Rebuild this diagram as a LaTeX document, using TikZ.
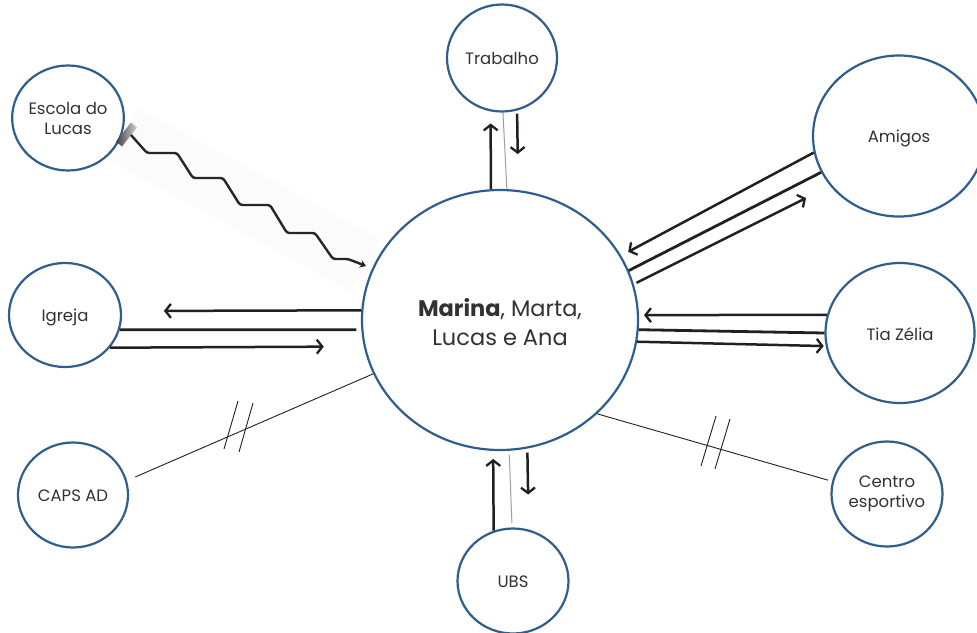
\documentclass[tikz,border=0pt]{standalone}
\usepackage{fontspec}
\setmainfont{Poppins}
\usetikzlibrary{arrows.meta,shapes.geometric,calc}
\definecolor{cblue}{RGB}{47,94,140}
\definecolor{ink}{RGB}{35,31,32}
\definecolor{txt}{RGB}{50,50,50}
\newcommand{\lowtxt}[2]{\raisebox{-#1}[\height][\depth]{\begin{tabular}{@{}c@{}}#2\end{tabular}}}
\begin{document}
\begin{tikzpicture}[x=1pt,y=-1pt,
  circ/.style={ellipse, draw=cblue, line width=2.2pt, fill=white, inner sep=0pt,
    text=txt, font=\fontsize{16.5}{20}\selectfont, align=center},
  arr/.style={draw=ink, line width=2.5pt, -{Straight Barb[length=5.5pt,width=14pt,line width=2.3pt]}},
  bar/.style={draw=ink, line width=2.8pt},
  thinline/.style={draw=ink, line width=0.9pt},
  grayline/.style={draw=gray!75, line width=1pt},
  zig/.style={draw=black!85, line width=2.4pt, rounded corners=2.5pt}
]
\useasboundingbox (0,0) rectangle (977,632);
\clip (0,0) rectangle (977,632);
\fill[white] (0,0) rectangle (977,632);

% faint band behind the zigzag
\fill[gray!3] (110,161) -- (139,109) -- (380,239) -- (351,291) -- cycle;

% nodes
\node[circ, minimum width=276pt, minimum height=260pt, font=\fontsize{22.5}{29}\selectfont] (c) at (500,320)
  {\lowtxt{5pt}{{\bfseries Marina}, Marta,\\Lucas e Ana}};
\node[circ, minimum width=110pt, minimum height=107pt] (trab) at (502,58) {\lowtxt{2pt}{Trabalho}};
\node[circ, minimum width=110pt, minimum height=105pt] (esc) at (68,118) {Escola do\\Lucas};
\node[circ, minimum width=172pt, minimum height=161pt] (ami) at (899,136) {\lowtxt{2pt}{Amigos}};
\node[circ, minimum width=112pt, minimum height=104pt] (igr) at (65,315) {\lowtxt{2pt}{Igreja}};
\node[circ, minimum width=149pt, minimum height=140pt] (tia) at (900,333) {\lowtxt{3pt}{Tia Zélia}};
\node[circ, minimum width=110pt, minimum height=105pt] (caps) at (73,495) {\lowtxt{2pt}{CAPS AD}};
\node[circ, minimum width=111pt, minimum height=105pt] (cen) at (887,494) {Centro\\esportivo};
\node[circ, minimum width=111pt, minimum height=105pt] (ubs) at (513,581) {\lowtxt{2pt}{UBS}};

% Trabalho
\draw[arr, shorten >=12pt] (c.94) -- (trab.258.1);
\draw[grayline] (trab.271) -- (c.87.8);
\draw[arr, shorten <=3pt, shorten >=36pt] (trab.286.2) -- (c.82.5);

% Amigos
\draw[arr, shorten >=8pt] (ami.191.4) -- (c.28.2);
\draw[bar] (ami.205.7) -- (c.21.1);
\draw[arr, shorten <=3pt, shorten >=27pt] (c.15.3) -- (ami.216.7);

% Igreja
\draw[arr, shorten >=42pt] (c.176.7) -- (igr.4.1);
\draw[bar, shorten >=5pt] (igr.345.2) -- (c.184.4);
\draw[arr, shorten >=40pt] (igr.324) -- (c.191.3);

% Tia Zelia
\draw[arr, shorten >=5pt] (tia.166.8) -- (c.2.5);
\draw[bar] (c.356.3) -- (tia.180);
\draw[arr, shorten >=2pt] (c.351.7) -- (tia.190.9);

% CAPS AD
\draw[thinline, shorten <=9pt] (caps.15.3) -- (c.203.8);
\draw[thinline] (224,449) -- (238,401);
\draw[thinline] (239,452) -- (253,403);

% Centro esportivo
\draw[thinline, shorten >=4pt] (c.316.5) -- (cen.167.4);
\draw[thinline] (701,466) -- (716,416);
\draw[thinline] (715,469) -- (730,419);

% UBS
\draw[arr, shorten >=8pt] (ubs.111.1) -- (c.267.4);
\draw[grayline, shorten <=4pt, shorten >=4pt] (c.274.4) -- (ubs.91.1);
\draw[arr, shorten <=4pt, shorten >=35pt] (c.282.4) -- (ubs.73.5);

% Escola do Lucas: broken (zigzag) relation
\shade[left color=black!75, right color=gray!35]
  (116,141.5) -- (122,146.5) -- (137,127.5) -- (131,122.5) -- cycle;
\coordinate (zs) at (131,135);
\coordinate (ze) at (366,266);
\draw[zig, -{Stealth[length=6pt,width=8pt]}] (zs) -- (147,153) -- (177,153) -- (193,178) -- (223,178)
  -- (240,205) -- (270,205) -- (287,233) -- (315,233) -- (333,259) -- (348,259) -- (ze);
\end{tikzpicture}
\end{document}
